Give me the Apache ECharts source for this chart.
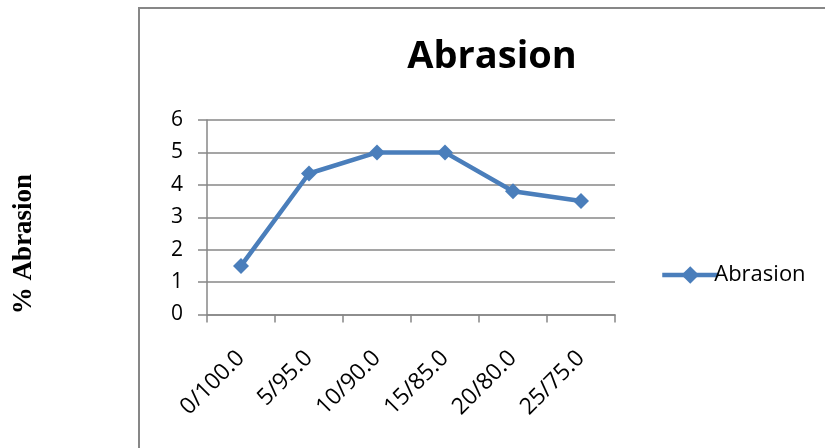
<!DOCTYPE html>
<html>
<head>
<meta charset="utf-8">
<script src="https://cdn.jsdelivr.net/npm/echarts@6/dist/echarts.min.js"></script>
<style>
  html, body { margin: 0; padding: 0; background: #fff; }
  #chart { width: 825px; height: 448px; }
</style>
</head>
<body>
<div id="chart"></div>
<script>
// Blend ratios on the category axis
const categories = ['0/100.0', '5/95.0', '10/90.0', '15/85.0', '20/80.0', '25/75.0'];
// Abrasion loss (%) for each blend
const abrasion = [1.5, 4.35, 5.0, 5.0, 3.8, 3.5];
// Value-axis range
const yMin = 0;
const yMax = 6;
const yStep = 1;

const lineColor = '#4a7ebb';
const axisGray = '#878787';
const labelFont = '"Open Sans", "Liberation Sans", sans-serif';

const chart = echarts.init(document.getElementById('chart'), null, { renderer: 'canvas' });

chart.setOption({
  animation: false,
  backgroundColor: '#fff',
  title: {
    text: 'Abrasion',
    left: 487,
    top: 33,
    textAlign: 'center',
    textStyle: { fontFamily: labelFont, fontWeight: 'bold', fontSize: 38, color: '#000' }
  },
  graphic: [
    {
      type: 'rect',
      shape: { x: 139, y: 8, width: 700, height: 500 },
      style: { fill: 'none', stroke: axisGray, lineWidth: 2 },
      silent: true
    },
    {
      type: 'text',
      x: 24,
      y: 244,
      rotation: Math.PI / 2,
      style: {
        text: '% Abrasion',
        fontFamily: '"Liberation Serif", "DejaVu Serif", serif',
        fontWeight: 'bold',
        fontSize: 27,
        fill: '#000',
        align: 'center',
        verticalAlign: 'middle'
      }
    }
  ],
  legend: {
    data: ['Abrasion'],
    left: 655,
    top: 259,
    itemWidth: 56,
    itemHeight: 22,
    itemGap: 0,
    lineStyle: { width: 4.5 },
    textStyle: { fontFamily: labelFont, fontSize: 22, color: '#000', padding: [0, 0, 0, -9] }
  },
  grid: { left: 207, right: 210, top: 120, bottom: 133.5, containLabel: false },
  xAxis: {
    type: 'category',
    data: categories,
    boundaryGap: true,
    axisLine: { show: true, lineStyle: { color: axisGray, width: 1.5 } },
    axisTick: { show: true, length: 8, alignWithLabel: false, lineStyle: { color: axisGray, width: 1.5 } },
    axisLabel: {
      rotate: 45,
      margin: 40,
      fontFamily: labelFont,
      fontSize: 23,
      color: '#000'
    },
    splitLine: { show: false }
  },
  yAxis: {
    type: 'value',
    min: yMin,
    max: yMax,
    interval: yStep,
    axisLine: { show: true, lineStyle: { color: axisGray, width: 1.5 } },
    axisTick: { show: true, length: 9, lineStyle: { color: axisGray, width: 1.5 } },
    axisLabel: { margin: 24, fontFamily: labelFont, fontSize: 21, color: '#000' },
    splitLine: { show: true, lineStyle: { color: axisGray, width: 1.5 } }
  },
  series: [
    {
      name: 'Abrasion',
      type: 'line',
      data: abrasion,
      symbol: 'diamond',
      symbolSize: 16,
      lineStyle: { color: lineColor, width: 4.5 },
      itemStyle: { color: lineColor },
      z: 5
    }
  ]
});
</script>
</body>
</html>
